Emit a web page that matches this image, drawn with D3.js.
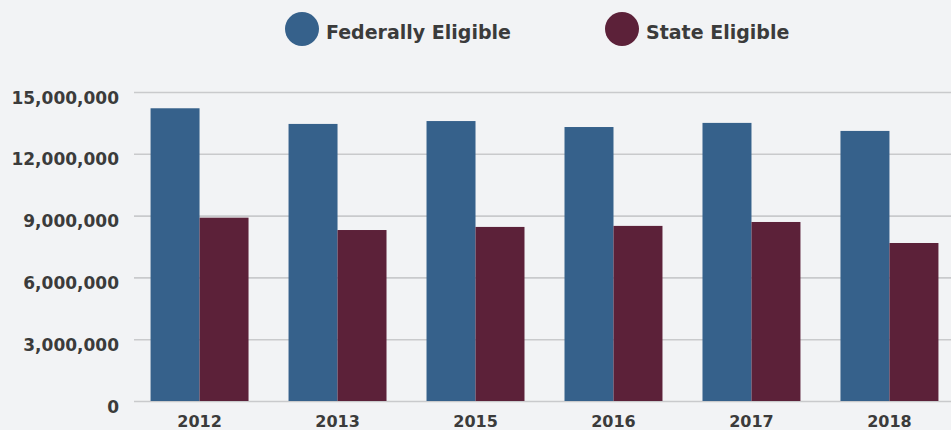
<!DOCTYPE html>
<html>
<head>
<meta charset="utf-8">
<script src="https://cdn.jsdelivr.net/npm/d3@7"></script>
<style>
  html, body { margin: 0; padding: 0; background: #f2f3f5; }
  svg { display: block; }
</style>
</head>
<body>
<div id="chart"></div>
<script>
var w = 951, h = 430;
var font = "'DejaVu Sans', sans-serif";

// data
var years = ["2012", "2013", "2015", "2016", "2017", "2018"];
var series = ["Federally Eligible", "State Eligible"];
var federal = [14210000, 13450000, 13590000, 13300000, 13500000, 13110000];
var state = [8900000, 8300000, 8450000, 8500000, 8690000, 7670000];
var yTicks = [0, 3000000, 6000000, 9000000, 12000000, 15000000];

var data = years.map(function(y, i) {
  return { year: y, "Federally Eligible": federal[i], "State Eligible": state[i] };
});

var svg = d3.select("#chart")
  .append("svg")
    .attr("width", w)
    .attr("height", h)
    .attr("font-family", font);

// scales
var xScale = d3.scaleBand().domain(years).range([134, 955]).paddingInner(0.29).paddingOuter(0.12);
var xSub = d3.scaleBand().domain(series).range([0, xScale.bandwidth()]);
var yScale = d3.scaleLinear().domain([0, 15000000]).range([401, 92]);
var color = d3.scaleOrdinal().domain(series).range(["#36618b", "#5c2139"]);

// gridlines + y labels
var yAxis = d3.axisLeft(yScale)
  .tickValues(yTicks)
  .tickSize(-(w - 134))
  .tickPadding(15)
  .tickFormat(d3.format(","));

var gy = svg.append("g")
  .attr("transform", "translate(134,0)")
  .call(yAxis)
  .attr("font-family", font);
gy.select(".domain").remove();
gy.selectAll(".tick line").attr("stroke", "#c9cacc").attr("stroke-width", 1.6);
gy.selectAll(".tick text")
  .attr("fill", "#3b3b3b")
  .attr("font-size", "17px")
  .attr("font-weight", "bold")
  .attr("dy", "0.65em");

// bars
svg.append("g")
  .selectAll("g")
  .data(data)
  .enter()
  .append("g")
  .attr("transform", function(d) { return "translate(" + xScale(d.year) + ",0)"; })
  .selectAll("rect")
  .data(function(d) { return series.map(function(key) { return { key: key, value: d[key] }; }); })
  .enter().append("rect")
  .attr("x", function(d) { return xSub(d.key); })
  .attr("y", function(d) { return yScale(d.value); })
  .attr("width", xSub.bandwidth())
  .attr("height", function(d) { return yScale(0) - yScale(d.value); })
  .attr("fill", function(d) { return color(d.key); });

// x labels
var xAxis = d3.axisBottom(xScale).tickSize(0).tickPadding(15);
var gx = svg.append("g")
  .attr("transform", "translate(0,401)")
  .call(xAxis)
  .attr("font-family", font);
gx.select(".domain").remove();
gx.selectAll(".tick text")
  .attr("fill", "#3b3b3b")
  .attr("font-size", "16px")
  .attr("font-weight", "bold");

// legend
var legendX = [302, 622];
var legend = svg.append("g")
  .selectAll("g")
  .data(series)
  .enter().append("g")
  .attr("transform", function(d, i) { return "translate(" + legendX[i] + ",29)"; });

legend.append("circle")
  .attr("r", 17)
  .attr("fill", function(d) { return color(d); });

legend.append("text")
  .attr("x", 24)
  .attr("y", 10)
  .attr("fill", "#3b3b3b")
  .attr("font-size", "19px")
  .attr("font-weight", "bold")
  .text(function(d) { return d; });
</script>
</body>
</html>
